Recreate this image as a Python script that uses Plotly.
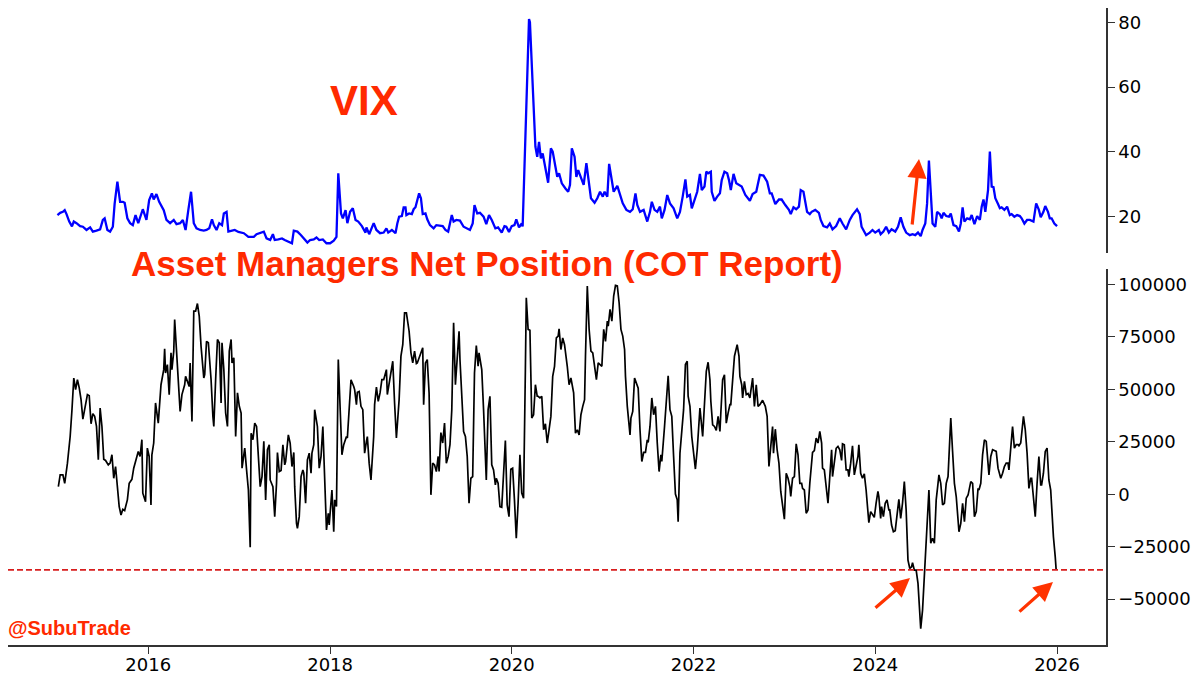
import datetime as dt

import plotly.graph_objects as go


RED = "#ff2a00"
FONT_TICKS = "DejaVu Sans"
FONT_TEXT = "Liberation Sans, Arial, sans-serif"

# VIX (weekly), decimal years
vix_years = [
    2015.00, 2015.03, 2015.06, 2015.08, 2015.10, 2015.13, 2015.16, 2015.18, 2015.21, 2015.25,
    2015.28, 2015.32, 2015.36, 2015.39, 2015.43, 2015.47, 2015.50, 2015.52, 2015.55, 2015.58,
    2015.61, 2015.63, 2015.66, 2015.69, 2015.72, 2015.74, 2015.77, 2015.80, 2015.83, 2015.86,
    2015.89, 2015.92, 2015.94, 2015.98, 2016.01, 2016.04, 2016.06, 2016.09, 2016.12, 2016.17,
    2016.20, 2016.24, 2016.28, 2016.31, 2016.35, 2016.38, 2016.41, 2016.44, 2016.47, 2016.50,
    2016.53, 2016.57, 2016.61, 2016.64, 2016.67, 2016.70, 2016.72, 2016.75, 2016.78, 2016.81,
    2016.83, 2016.86, 2016.88, 2016.92, 2016.95, 2016.99, 2017.05, 2017.10, 2017.16, 2017.19,
    2017.23, 2017.27, 2017.30, 2017.34, 2017.37, 2017.39, 2017.43, 2017.47, 2017.50, 2017.54,
    2017.58, 2017.60, 2017.64, 2017.68, 2017.71, 2017.75, 2017.78, 2017.82, 2017.85, 2017.88,
    2017.92, 2017.96, 2018.00, 2018.04, 2018.07, 2018.09, 2018.12, 2018.14, 2018.17, 2018.19,
    2018.22, 2018.25, 2018.28, 2018.31, 2018.35, 2018.39, 2018.40, 2018.43, 2018.48, 2018.51,
    2018.55, 2018.59, 2018.62, 2018.64, 2018.68, 2018.72, 2018.74, 2018.76, 2018.79, 2018.81,
    2018.83, 2018.84, 2018.87, 2018.90, 2018.92, 2018.94, 2018.96, 2018.98, 2019.00, 2019.02,
    2019.05, 2019.07, 2019.10, 2019.14, 2019.17, 2019.21, 2019.24, 2019.27, 2019.30, 2019.34,
    2019.36, 2019.39, 2019.43, 2019.47, 2019.50, 2019.54, 2019.57, 2019.59, 2019.62, 2019.65,
    2019.69, 2019.72, 2019.75, 2019.78, 2019.82, 2019.85, 2019.89, 2019.92, 2019.94, 2019.97,
    2020.00, 2020.03, 2020.05, 2020.08, 2020.11, 2020.12, 2020.19, 2020.20, 2020.26, 2020.28,
    2020.30, 2020.32, 2020.34, 2020.36, 2020.38, 2020.40, 2020.43, 2020.45, 2020.48, 2020.50,
    2020.52, 2020.55, 2020.59, 2020.62, 2020.64, 2020.66, 2020.69, 2020.71, 2020.73, 2020.76,
    2020.79, 2020.82, 2020.84, 2020.87, 2020.91, 2020.94, 2020.97, 2021.00, 2021.02, 2021.05,
    2021.07, 2021.09, 2021.12, 2021.16, 2021.18, 2021.22, 2021.26, 2021.30, 2021.33, 2021.36,
    2021.38, 2021.41, 2021.45, 2021.49, 2021.52, 2021.54, 2021.57, 2021.60, 2021.63, 2021.65,
    2021.68, 2021.71, 2021.74, 2021.78, 2021.82, 2021.85, 2021.88, 2021.91, 2021.93, 2021.96,
    2021.98, 2022.01, 2022.04, 2022.07, 2022.09, 2022.12, 2022.14, 2022.16, 2022.19, 2022.20,
    2022.23, 2022.26, 2022.29, 2022.31, 2022.34, 2022.37, 2022.39, 2022.41, 2022.44, 2022.47,
    2022.51, 2022.53, 2022.57, 2022.62, 2022.65, 2022.69, 2022.73, 2022.77, 2022.81, 2022.84,
    2022.86, 2022.90, 2022.94, 2022.97, 2023.01, 2023.05, 2023.07, 2023.10, 2023.13, 2023.16,
    2023.18, 2023.21, 2023.25, 2023.28, 2023.30, 2023.34, 2023.38, 2023.40, 2023.43, 2023.47,
    2023.50, 2023.53, 2023.57, 2023.61, 2023.64, 2023.68, 2023.72, 2023.75, 2023.80, 2023.83,
    2023.85, 2023.88, 2023.90, 2023.94, 2023.97, 2024.00, 2024.04, 2024.06, 2024.09, 2024.12,
    2024.15, 2024.18, 2024.22, 2024.25, 2024.28, 2024.31, 2024.34, 2024.38, 2024.41, 2024.44,
    2024.47, 2024.50, 2024.52, 2024.55, 2024.57, 2024.59, 2024.61, 2024.63, 2024.66, 2024.68,
    2024.71, 2024.73, 2024.75, 2024.78, 2024.81, 2024.83, 2024.86, 2024.89, 2024.92, 2024.94,
    2024.96, 2024.98, 2025.01, 2025.04, 2025.06, 2025.09, 2025.12, 2025.15, 2025.17, 2025.19,
    2025.21, 2025.24, 2025.26, 2025.28, 2025.30, 2025.32, 2025.35, 2025.37, 2025.39, 2025.42,
    2025.45, 2025.48, 2025.50, 2025.53, 2025.56, 2025.59, 2025.61, 2025.64, 2025.67, 2025.70,
    2025.74, 2025.77, 2025.80, 2025.82, 2025.85, 2025.87, 2025.90, 2025.92, 2025.94, 2025.97,
    2026.00,
]
vix_values = [
    20.5, 21.2, 21.5, 22.0, 20.8, 18.5, 17.0, 18.5, 18.0, 17.1,
    16.9, 15.9, 16.7, 15.4, 15.7, 16.1, 19.0, 19.5, 15.9, 15.4,
    16.9, 24.0, 30.8, 24.6, 24.6, 24.3, 19.5, 18.0, 17.4, 20.5,
    18.0, 21.0, 22.3, 19.0, 25.1, 27.2, 25.3, 27.0, 24.6, 22.0,
    19.0, 18.0, 19.0, 17.7, 18.0, 19.0, 15.9, 22.0, 27.7, 18.0,
    16.4, 15.9, 15.7, 15.9, 16.4, 19.2, 17.4, 15.9, 18.0, 17.4,
    21.0, 21.5, 15.4, 15.7, 15.9, 15.3, 14.9, 13.8, 13.8, 14.6,
    15.1, 15.4, 13.3, 12.8, 14.6, 12.8, 13.0, 13.3, 12.8, 12.3,
    11.8, 15.7, 15.4, 14.3, 13.3, 12.0, 12.8, 13.0, 13.6, 12.8,
    13.0, 11.8, 11.8, 12.6, 13.8, 33.4, 21.0, 19.5, 22.0, 18.0,
    21.5, 22.6, 19.0, 18.5, 17.1, 15.1, 16.7, 14.6, 18.0, 15.9,
    14.9, 15.1, 16.4, 15.1, 15.9, 14.9, 17.9, 20.0, 20.2, 22.9,
    22.9, 20.5, 21.0, 20.8, 22.3, 22.9, 25.1, 27.2, 25.7, 20.8,
    21.0, 19.2, 17.4, 16.4, 17.4, 17.1, 17.1, 15.9, 15.4, 20.5,
    18.5, 19.0, 18.8, 16.9, 16.4, 15.9, 17.9, 23.6, 21.0, 21.2,
    20.0, 17.7, 20.5, 19.0, 16.4, 16.7, 15.1, 17.1, 16.9, 15.3,
    17.1, 17.4, 19.2, 16.7, 17.9, 17.0, 81.0, 80.0, 41.6, 38.5,
    43.1, 38.0, 39.5, 36.5, 32.3, 30.5, 41.1, 40.1, 35.4, 32.3,
    33.4, 30.3, 28.7, 27.7, 29.8, 41.1, 38.5, 32.3, 34.4, 32.3,
    29.8, 36.5, 32.3, 25.7, 24.3, 25.7, 27.7, 26.2, 27.7, 26.2,
    36.3, 32.3, 27.7, 29.5, 27.7, 24.1, 22.1, 21.5, 22.3, 27.2,
    23.6, 21.5, 22.1, 18.5, 21.5, 24.6, 22.1, 21.5, 23.1, 19.5,
    22.1, 26.7, 24.1, 22.6, 19.5, 21.5, 26.2, 31.5, 26.2, 26.7,
    22.6, 25.1, 27.7, 33.2, 28.2, 29.3, 33.9, 33.4, 33.9, 27.7,
    24.9, 26.2, 27.2, 31.3, 33.9, 33.4, 31.3, 28.2, 33.2, 30.3,
    29.8, 29.3, 26.7, 24.9, 27.0, 27.7, 32.9, 32.7, 30.8, 27.2,
    27.2, 23.9, 25.3, 25.3, 23.6, 22.1, 20.8, 22.9, 22.3, 23.1,
    28.2, 27.7, 21.5, 20.8, 21.5, 22.1, 21.2, 19.0, 17.1, 16.7,
    17.9, 16.1, 17.1, 19.5, 17.9, 16.1, 19.0, 20.5, 22.3, 20.8,
    16.9, 15.4, 14.3, 15.1, 15.9, 15.1, 15.9, 14.6, 15.4, 16.9,
    15.1, 16.1, 15.4, 16.9, 19.8, 16.9, 15.1, 14.3, 14.6, 14.3,
    15.1, 14.0, 15.9, 17.9, 24.1, 37.3, 26.2, 17.9, 16.9, 21.5,
    20.8, 19.5, 21.2, 20.2, 20.0, 21.0, 17.4, 17.1, 15.4, 17.9,
    22.9, 18.5, 19.5, 19.2, 20.5, 17.7, 20.2, 19.0, 23.1, 25.3,
    21.5, 28.2, 40.1, 29.3, 29.1, 25.7, 23.9, 22.6, 22.9, 22.1,
    23.1, 20.5, 20.8, 20.0, 20.5, 20.2, 19.5, 17.9, 19.0, 19.0,
    18.5, 24.1, 22.1, 19.8, 21.5, 23.3, 21.5, 19.5, 19.5, 17.9,
    17.1,
]

# Asset managers net position, COT report (contracts), decimal years
cot_years = [
    2015.01, 2015.03, 2015.06, 2015.08, 2015.11, 2015.14, 2015.16, 2015.18, 2015.20, 2015.22,
    2015.24, 2015.26, 2015.28, 2015.30, 2015.31, 2015.33, 2015.35, 2015.37, 2015.39, 2015.41,
    2015.43, 2015.45, 2015.47, 2015.49, 2015.51, 2015.53, 2015.56, 2015.58, 2015.60, 2015.62,
    2015.64, 2015.66, 2015.68, 2015.70, 2015.72, 2015.74, 2015.77, 2015.79, 2015.82, 2015.84,
    2015.87, 2015.89, 2015.91, 2015.93, 2015.94, 2015.97, 2015.99, 2016.01, 2016.03, 2016.04,
    2016.06, 2016.08, 2016.11, 2016.14, 2016.17, 2016.18, 2016.19, 2016.21, 2016.23, 2016.25,
    2016.26, 2016.28, 2016.29, 2016.31, 2016.33, 2016.35, 2016.37, 2016.40, 2016.41, 2016.43,
    2016.45, 2016.46, 2016.48, 2016.50, 2016.52, 2016.54, 2016.56, 2016.58, 2016.61, 2016.62,
    2016.64, 2016.66, 2016.69, 2016.71, 2016.72, 2016.74, 2016.76, 2016.78, 2016.80, 2016.81,
    2016.83, 2016.85, 2016.87, 2016.89, 2016.91, 2016.92, 2016.94, 2016.96, 2016.98, 2017.00,
    2017.02, 2017.03, 2017.06, 2017.08, 2017.10, 2017.12, 2017.13, 2017.15, 2017.17, 2017.19,
    2017.21, 2017.23, 2017.25, 2017.27, 2017.29, 2017.31, 2017.33, 2017.34, 2017.37, 2017.39,
    2017.41, 2017.42, 2017.44, 2017.46, 2017.48, 2017.50, 2017.51, 2017.54, 2017.56, 2017.58,
    2017.60, 2017.61, 2017.63, 2017.64, 2017.66, 2017.68, 2017.70, 2017.71, 2017.73, 2017.75,
    2017.77, 2017.79, 2017.80, 2017.82, 2017.83, 2017.86, 2017.88, 2017.90, 2017.92, 2017.94,
    2017.96, 2017.98, 2017.99, 2018.02, 2018.04, 2018.05, 2018.07, 2018.09, 2018.12, 2018.13,
    2018.15, 2018.18, 2018.19, 2018.21, 2018.23, 2018.26, 2018.27, 2018.29, 2018.30, 2018.32,
    2018.34, 2018.36, 2018.38, 2018.40, 2018.41, 2018.43, 2018.45, 2018.48, 2018.49, 2018.51,
    2018.53, 2018.55, 2018.57, 2018.59, 2018.62, 2018.63, 2018.65, 2018.67, 2018.69, 2018.71,
    2018.73, 2018.76, 2018.78, 2018.80, 2018.82, 2018.84, 2018.85, 2018.87, 2018.89, 2018.91,
    2018.93, 2018.95, 2018.96, 2018.98, 2019.00, 2019.02, 2019.03, 2019.05, 2019.07, 2019.09,
    2019.11, 2019.13, 2019.15, 2019.17, 2019.19, 2019.20, 2019.22, 2019.24, 2019.26, 2019.28,
    2019.30, 2019.32, 2019.34, 2019.36, 2019.38, 2019.40, 2019.42, 2019.43, 2019.45, 2019.47,
    2019.49, 2019.51, 2019.53, 2019.55, 2019.57, 2019.59, 2019.61, 2019.63, 2019.64, 2019.67,
    2019.69, 2019.71, 2019.72, 2019.74, 2019.76, 2019.78, 2019.80, 2019.82, 2019.83, 2019.85,
    2019.87, 2019.89, 2019.91, 2019.93, 2019.95, 2019.97, 2019.99, 2020.01, 2020.03, 2020.05,
    2020.07, 2020.09, 2020.11, 2020.13, 2020.15, 2020.16, 2020.18, 2020.20, 2020.22, 2020.24,
    2020.26, 2020.28, 2020.29, 2020.31, 2020.33, 2020.35, 2020.37, 2020.39, 2020.41, 2020.43,
    2020.45, 2020.47, 2020.49, 2020.51, 2020.52, 2020.54, 2020.56, 2020.58, 2020.61, 2020.63,
    2020.65, 2020.68, 2020.70, 2020.72, 2020.74, 2020.76, 2020.78, 2020.80, 2020.81, 2020.83,
    2020.85, 2020.87, 2020.89, 2020.91, 2020.93, 2020.95, 2020.97, 2020.99, 2021.01, 2021.03,
    2021.05, 2021.06, 2021.08, 2021.10, 2021.12, 2021.14, 2021.16, 2021.18, 2021.20, 2021.22,
    2021.24, 2021.25, 2021.27, 2021.30, 2021.31, 2021.33, 2021.35, 2021.38, 2021.39, 2021.41,
    2021.43, 2021.45, 2021.47, 2021.49, 2021.50, 2021.52, 2021.54, 2021.56, 2021.58, 2021.60,
    2021.62, 2021.64, 2021.65, 2021.68, 2021.70, 2021.72, 2021.74, 2021.76, 2021.78, 2021.80,
    2021.82, 2021.83, 2021.85, 2021.87, 2021.89, 2021.91, 2021.93, 2021.94, 2021.96, 2021.98,
    2022.00, 2022.02, 2022.04, 2022.06, 2022.07, 2022.10, 2022.12, 2022.14, 2022.16, 2022.18,
    2022.19, 2022.21, 2022.23, 2022.25, 2022.27, 2022.29, 2022.30, 2022.32, 2022.34, 2022.36,
    2022.38, 2022.40, 2022.41, 2022.43, 2022.45, 2022.48, 2022.50, 2022.51, 2022.53, 2022.54,
    2022.56, 2022.58, 2022.60, 2022.62, 2022.63, 2022.65, 2022.67, 2022.69, 2022.71, 2022.73,
    2022.76, 2022.79, 2022.81, 2022.83, 2022.85, 2022.87, 2022.88, 2022.90, 2022.92, 2022.94,
    2022.96, 2022.98, 2023.00, 2023.02, 2023.04, 2023.06, 2023.07, 2023.09, 2023.11, 2023.13,
    2023.15, 2023.17, 2023.19, 2023.20, 2023.22, 2023.24, 2023.26, 2023.28, 2023.30, 2023.31,
    2023.33, 2023.35, 2023.37, 2023.39, 2023.41, 2023.42, 2023.44, 2023.46, 2023.48, 2023.50,
    2023.52, 2023.53, 2023.55, 2023.57, 2023.59, 2023.61, 2023.63, 2023.64, 2023.66, 2023.68,
    2023.70, 2023.71, 2023.73, 2023.75, 2023.77, 2023.79, 2023.81, 2023.82, 2023.84, 2023.86,
    2023.88, 2023.90, 2023.92, 2023.93, 2023.95, 2023.97, 2023.99, 2024.01, 2024.03, 2024.04,
    2024.06, 2024.07, 2024.09, 2024.11, 2024.13, 2024.15, 2024.16, 2024.18, 2024.20, 2024.22,
    2024.24, 2024.26, 2024.28, 2024.30, 2024.32, 2024.34, 2024.36, 2024.38, 2024.40, 2024.41,
    2024.43, 2024.45, 2024.47, 2024.49, 2024.50, 2024.52, 2024.54, 2024.56, 2024.58, 2024.59,
    2024.61, 2024.63, 2024.65, 2024.67, 2024.69, 2024.70, 2024.72, 2024.74, 2024.76, 2024.78,
    2024.80, 2024.81, 2024.83, 2024.85, 2024.87, 2024.89, 2024.91, 2024.92, 2024.94, 2024.96,
    2024.98, 2025.00, 2025.02, 2025.03, 2025.05, 2025.07, 2025.09, 2025.11, 2025.13, 2025.14,
    2025.16, 2025.18, 2025.20, 2025.22, 2025.24, 2025.25, 2025.27, 2025.29, 2025.31, 2025.33,
    2025.35, 2025.36, 2025.38, 2025.40, 2025.42, 2025.44, 2025.46, 2025.47, 2025.49, 2025.51,
    2025.53, 2025.55, 2025.57, 2025.58, 2025.60, 2025.62, 2025.63, 2025.65, 2025.67, 2025.69,
    2025.71, 2025.72, 2025.74, 2025.76, 2025.78, 2025.80, 2025.82, 2025.83, 2025.85, 2025.87,
    2025.89, 2025.91, 2025.93, 2025.94, 2025.96, 2025.98, 2025.99,
]
cot_values = [
    3600, 9200, 9200, 5200, 14800, 27500, 40300, 55400, 49900, 54600,
    50700, 45100, 35800, 41100, 41900, 47500, 47000, 33600, 38400, 37100,
    32300, 16400, 41100, 32300, 16700, 16100, 14000, 14800, 18800, 7600,
    13200, 2800, -5900, -9900, -7200, -7800, -2700, 5200, 7100, 12400,
    17700, 20400, 18000, 26000, 500, -3600, 22000, 18000, -5100, 18800,
    24400, 43500, 33900, 52200, 59400, 69300, 57800, 61800, 47500, 67400,
    59400, 68200, 83300, 68900, 54600, 39500, 47500, 52200, 56200, 53800,
    51400, 62600, 34700, 87300, 87300, 90900, 84900, 70500, 55400, 57000,
    72900, 72200, 54600, 37100, 32300, 54600, 73800, 72200, 43500, 72200,
    59400, 38700, 32300, 68200, 73800, 62600, 65000, 27500, 48300, 41900,
    38700, 12400, 22000, 11600, 2000, -25300, 29100, 26000, 33900, 32300,
    15600, 3600, 8400, 25200, -2700, 21200, 23600, 6800, 3600, -10700,
    5200, 19900, 10800, 11300, 23600, 14000, 15600, 28300, 24400, 13200,
    19900, 3600, -13900, -16300, -10700, 8400, 11600, 10000, -4300, 16400,
    19600, 10000, 19600, 23600, 40300, 32300, 12400, 18000, 32300, 5200,
    -17000, -9100, -14700, 2000, -17900, -2700, -5900, 64200, 33900, 18800,
    23600, 27500, 26800, 40300, 54600, 51400, 49900, 42700, 48600, 49000,
    41900, 40300, 19600, 25200, 27500, 14800, 6800, 27500, 42700, 51100,
    44300, 48300, 54600, 54600, 59400, 47500, 53000, 59400, 63400, 43500,
    26800, 45100, 65800, 71300, 86500, 86500, 84100, 77700, 67400, 62600,
    68200, 62300, 62600, 65000, 66600, 69800, 42700, 62600, 64200, 48300,
    -300, 14800, 14000, 10800, 18000, 10800, 29400, 24400, 33900, 14800,
    18000, 23600, 40300, 81700, 52200, 65800, 77700, 64200, 43500, 29900,
    27500, 18000, -4300, 7600, 8400, 57800, 70900, 61000, 67400, 59400,
    40300, 10800, 6800, 40300, 46700, 14000, 11600, 4400, 7600, 5200,
    -5900, -6200, 13200, 25600, -5100, -10700, 11900, 12400, -2700, -21000,
    -4300, 18800, 500, -1900, 59400, 93700, 78600, 78200, 36300, 37900,
    52200, 46700, 46700, 45900, 46700, 30700, 33600, 24400, 30700, 37100,
    56200, 61000, 74500, 75400, 78900, 69000, 74500, 71300, 61000, 52200,
    55400, 48300, 29100, 30700, 28300, 37900, 41900, 45100, 65800, 99300,
    78600, 68200, 67400, 61000, 54600, 62600, 61800, 61000, 78600, 72900,
    82500, 80100, 88100, 82500, 94500, 99600, 99300, 91300, 78600, 75400,
    69000, 56200, 41900, 28300, 36300, 39500, 55400, 52200, 50600, 30700,
    15600, 19900, 19900, 25900, 24700, 32300, 45900, 37900, 41900, 24400,
    10800, 18800, 15600, 32300, 45100, 56500, 40300, 37100, 18000, 100,
    -2700, -13100, 19600, 29100, 40300, 61800, 63400, 46700, 41900, 27500,
    18000, 12000, 21200, 38700, 41100, 27500, 46700, 58600, 62900, 54600,
    44300, 33100, 32300, 30400, 37100, 29900, 38700, 54600, 57000, 33900,
    38700, 42700, 42700, 54600, 65800, 71300, 65800, 56200, 52200, 45900,
    53800, 47500, 48000, 45900, 49900, 55400, 41900, 52200, 41900, 42700,
    44800, 41900, 37100, 13200, 22800, 32300, 19600, 31000, 21200, 14800,
    1300, -4300, -11900, 10000, 7600, 3600, -1100, 7600, 8400, 24000,
    18800, 5200, 5200, 2800, 2000, -9100, -7500, 5200, 16400, 19900,
    20800, 26800, 24400, 29900, 24400, 12400, 11600, 3600, -4300, 8400,
    21200, 8400, 16400, 21900, 22800, 21200, 16100, 24000, 23600, 11600,
    11600, 8400, 14800, 23100, 9200, 13200, 18000, 23600, 10000, 7600,
    9700, 2000, -12300, -13600, -8300, -9900, -11000, -4300, 1300, -1100,
    -11500, -5900, -10700, -4300, -2700, -7500, -7500, -14700, -17900, -17400,
    -9100, -2400, -11500, -4300, 6000, -7500, -31400, -35400, -34600, -32700,
    -36200, -36200, -42500, -55300, -64100, -55300, -39400, -23400, -9100, 2000,
    -23400, -21000, -23400, -2700, 5200, 9200, 5200, -5100, -4300, 5200,
    8400, 18800, 36300, 20400, 5200, -1100, -10700, -17900, -13900, -4300,
    -13100, -1900, -400, 2000, 6000, 5200, -10700, -8300, 2800, 2000,
    5200, 18800, 25900, 25200, 11600, 9200, 18000, 21200, 20800, 20400,
    12400, 10800, 7600, 10000, 13200, 14800, 14800, 11600, 24400, 32300,
    22000, 23600, 23600, 23100, 24400, 31500, 37100, 30700, 19600, 2800,
    7600, 7600, -1100, -10700, 5200, 18000, 4400, 4400, 10000, 20400,
    22000, 6800, 2000, -5900, -20300, -29900, -36100,
]

# latest reading, drawn as the dashed reference line
latest_level = -36100

vix_ticks = [20, 40, 60, 80]
cot_ticks = [-50000, -25000, 0, 25000, 50000, 75000, 100000]


def to_date(y):
    year = int(y)
    start = dt.datetime(year, 1, 1)
    end = dt.datetime(year + 1, 1, 1)
    return start + (end - start) * (y - year)


def label(v):
    return str(v).replace("-", "\u2212")


vix_dates = [to_date(y) for y in vix_years]
cot_dates = [to_date(y) for y in cot_years]

fig = go.Figure()

fig.add_trace(
    go.Scatter(
        x=vix_dates, y=vix_values, mode="lines",
        line={"color": "#0000ff", "width": 2.3},
        xaxis="x2", yaxis="y2", showlegend=False, hoverinfo="skip",
    )
)
fig.add_trace(
    go.Scatter(
        x=cot_dates, y=cot_values, mode="lines",
        line={"color": "black", "width": 1.7},
        xaxis="x", yaxis="y", showlegend=False, hoverinfo="skip",
    )
)

fig.add_shape(
    type="line", xref="paper", x0=0, x1=1, yref="y",
    y0=latest_level, y1=latest_level,
    line={"color": "#d81e1e", "width": 1.6, "dash": "6px,3px"},
)

axis_common = dict(
    showgrid=False, zeroline=False, showline=True, automargin=False,
    linecolor="#333333", linewidth=1.5,
    ticks="outside", ticklen=7, tickwidth=1.3, tickcolor="#333333",
    tickfont={"family": FONT_TICKS, "size": 18, "color": "black"},
)

fig.update_layout(
    width=1200,
    height=681,
    margin={"l": 8, "r": 94, "t": 8, "b": 36},
    paper_bgcolor="white",
    plot_bgcolor="white",
    showlegend=False,
    xaxis=dict(
        axis_common,
        domain=[0, 1], anchor="y", type="date",
        range=[to_date(2014.4555), to_date(2026.539)],
        tick0="2016-01-01", dtick="M24", tickformat="%Y",
        ticklabelstandoff=-4,
    ),
    xaxis2=dict(
        domain=[0, 1], anchor="y2", matches="x", type="date", visible=False,
    ),
    yaxis=dict(
        axis_common,
        domain=[0, 0.5895], anchor="x", side="right",
        range=[-71900, 107150],
        tickvals=cot_ticks, ticktext=[label(v) for v in cot_ticks],
    ),
    yaxis2=dict(
        axis_common,
        domain=[0.6154, 1], anchor="x2", side="right",
        range=[8.8, 84.4],
        tickvals=vix_ticks, ticktext=[label(v) for v in vix_ticks],
    ),
)

# titles and signature
fig.add_annotation(
    text="<b>VIX</b>", xref="paper", yref="paper", x=0.3242, y=0.8155,
    xanchor="center", yanchor="bottom", showarrow=False,
    font={"family": FONT_TEXT, "size": 42, "color": RED},
)
fig.add_annotation(
    text="<b>Asset Managers Net Position (COT Report)</b>",
    xref="paper", yref="paper", x=0.4366, y=0.5644,
    xanchor="center", yanchor="bottom", showarrow=False,
    font={"family": FONT_TEXT, "size": 35, "color": RED},
)
fig.add_annotation(
    text="<b>@SubuTrade</b>", xref="paper", yref="paper", x=-0.002, y=0.0066,
    xanchor="left", yanchor="bottom", showarrow=False,
    font={"family": FONT_TEXT, "size": 20, "color": RED},
)

# red arrows
arrows = [
    (0.8297, 0.7630, -7, 67),
    (0.8215, 0.1052, -36, 31),
    (0.9517, 0.0989, -35, 31),
]
for ax_x, ax_y, dx, dy in arrows:
    fig.add_annotation(
        text="", xref="paper", yref="paper", x=ax_x, y=ax_y,
        ax=dx, ay=dy, showarrow=True,
        arrowhead=2, arrowsize=1.2, arrowwidth=3.2, arrowcolor="#ff3300",
    )

# the page's default body margin would push the figure 8px off
fig.write_html(
    "out.html",
    config={"displayModeBar": False},
    post_script="document.body.style.margin = '0px';",
)
